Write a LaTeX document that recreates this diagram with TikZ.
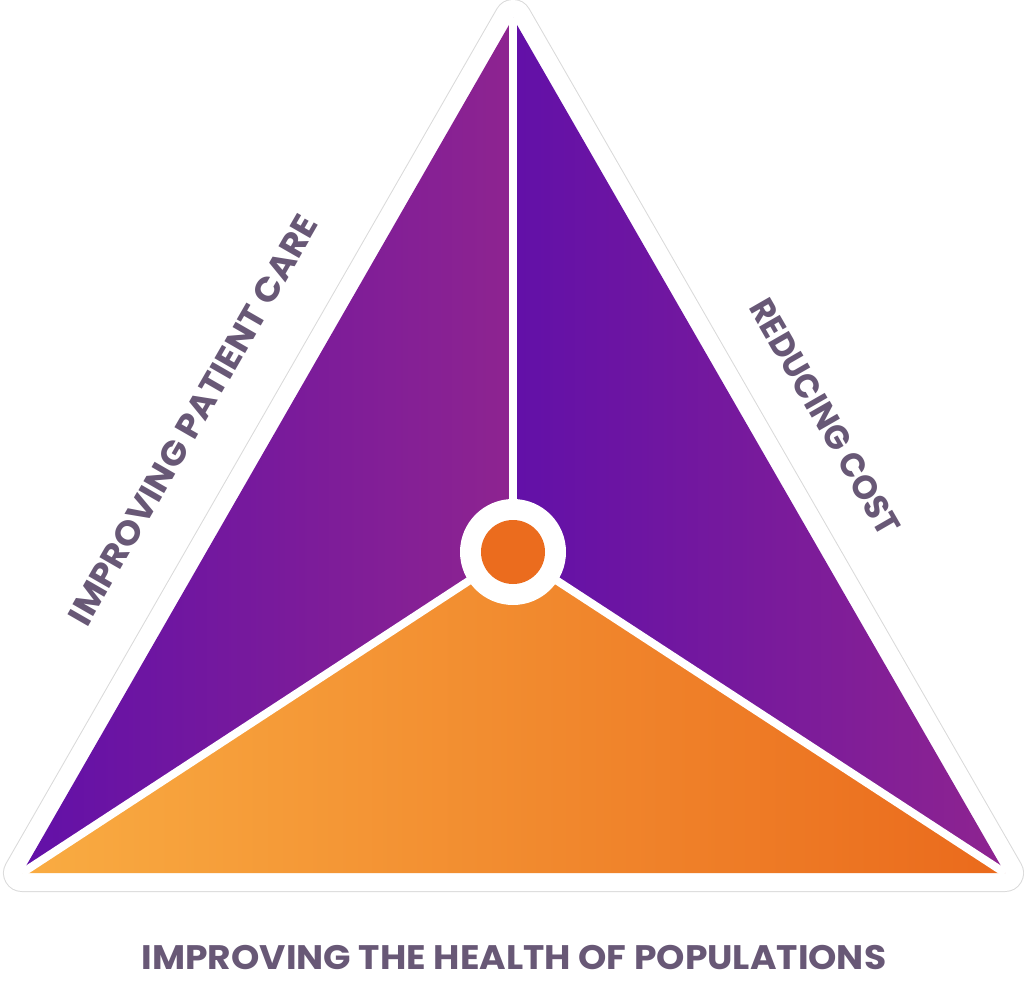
\documentclass[tikz,border=0pt]{standalone}
\usepackage{graphicx}
\usepackage{fontspec}
\setmainfont{Poppins}
\definecolor{violetA}{RGB}{98,16,168}
\definecolor{magentaA}{RGB}{142,36,144}
\definecolor{orangeL}{RGB}{249,172,66}
\definecolor{orangeD}{RGB}{234,106,28}
\definecolor{dotorange}{RGB}{235,108,30}
\definecolor{labelgray}{RGB}{104,88,118}
\definecolor{rimgray}{RGB}{218,218,218}
\newcommand\widetext[2]{\scalebox{#1}[1]{#2}}
\tikzset{
  label/.style={text=labelgray, font=\bfseries\fontsize{34}{38}\selectfont, inner sep=0pt},
  divider/.style={draw=white, line width=8pt, line cap=butt},
}
\begin{document}
\begin{tikzpicture}[x=1pt,y=-1pt]
\useasboundingbox (0,0) rectangle (1024,981);
\coordinate (A) at (513,18);
\coordinate (L) at (22,873);
\coordinate (R) at (1005,873);
\coordinate (C) at (513,552);
% white rim with faint outline
\draw[rimgray, line width=38pt, line join=round] (A) -- (L) -- (R) -- cycle;
\draw[white, fill=white, line width=36pt, line join=round] (A) -- (L) -- (R) -- cycle;
% regions
\shade[left color=violetA, right color=magentaA] (A) -- (L) -- (C) -- cycle;
\shade[left color=violetA, right color=magentaA] (A) -- (C) -- (R) -- cycle;
\shade[left color=orangeL, right color=orangeD] (L) -- (C) -- (R) -- cycle;
% dividers
\draw[divider] (C) -- (A);
\draw[divider] (C) -- (L);
\draw[divider] (C) -- (R);
% hub
\node[circle, fill=white, minimum size=106pt, inner sep=0pt] (hub) at (C) {};
\node[circle, fill=dotorange, minimum size=64pt, inner sep=0pt] (dot) at (C) {};
% labels
\node[label, rotate=60.1] (care) at (193,420) {\widetext{1.05}{IMPROVING PATIENT CARE}};
\node[label, rotate=-60.1] (cost) at (825,417) {\widetext{0.96}{REDUCING COST}};
\node[label] (health) at (514,958) {\widetext{1.06}{IMPROVING THE HEALTH OF POPULATIONS}};
\end{tikzpicture}
\end{document}
